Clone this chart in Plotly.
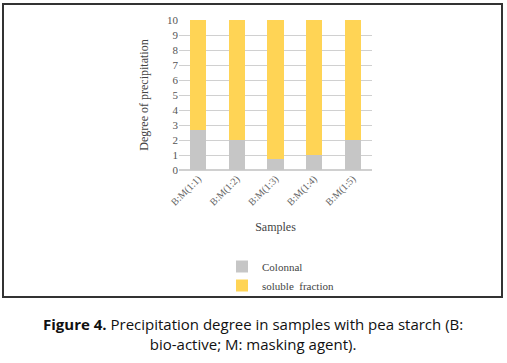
import plotly.graph_objects as go

samples = ["B:M(1:1)", "B:M(1:2)", "B:M(1:3)", "B:M(1:4)", "B:M(1:5)"]
colonnal = [2.7, 2.0, 0.75, 1.0, 2.0]
soluble = [7.3, 8.0, 9.25, 9.0, 8.0]
y_ticks = list(range(0, 11))

serif = "Liberation Serif, Times New Roman, serif"

fig = go.Figure()
fig.add_trace(go.Bar(x=samples, y=colonnal, name="Colonnal",
                     marker=dict(color="#c6c6c6", line=dict(width=0)), width=0.42))
fig.add_trace(go.Bar(x=samples, y=soluble, name="soluble  fraction",
                     marker=dict(color="#ffd455", line=dict(width=0)), width=0.42))

fig.update_layout(
    barmode="stack",
    width=507, height=363,
    margin=dict(l=179, r=135, t=20, b=193, autoexpand=False),
    paper_bgcolor="white", plot_bgcolor="white",
    font=dict(family=serif, size=11, color="#555555"),
    showlegend=True,
    legend=dict(x=(222 - 179) / 193, y=(170 - 252) / 150, xanchor="left", yanchor="top",
                traceorder="normal",
                font=dict(family=serif, size=11, color="#444444"),
                itemwidth=30, tracegroupgap=0, bgcolor="rgba(0,0,0,0)"),
    xaxis=dict(tickangle=-45, tickfont=dict(family=serif, size=10, color="#666666"),
               showgrid=False, showline=False, ticks="",
               title=dict(text="Samples", font=dict(family=serif, size=12, color="#444444"))),
    yaxis=dict(range=[0, 10], tickvals=y_ticks, showgrid=True, gridcolor="#d0d0d0", gridwidth=1,
               zeroline=True, zerolinecolor="#d0d0d0", showline=False, ticks="",
               tickfont=dict(family=serif, size=11, color="#555555"),
               title=dict(text="Degree of precipitation", font=dict(family=serif, size=12, color="#444444"))),
    annotations=[dict(
        xref="paper", yref="paper", x=(253 - 179) / 193, y=(170 - 312) / 150,
        xanchor="center", yanchor="top", showarrow=False, align="center",
        text="<b>Figure 4.</b> Precipitation degree in samples with pea starch (B:<br>bio-active; M: masking agent).",
        font=dict(family="Open Sans, Noto Sans, sans-serif", size=15, color="#111111"),
    )],
    shapes=[dict(type="rect", xref="paper", yref="paper",
                 x0=(3 - 179) / 193, x1=(502 - 179) / 193,
                 y0=(170 - 297) / 150, y1=(170 - 4) / 150,
                 line=dict(color="#333333", width=2), fillcolor="rgba(0,0,0,0)", layer="below")],
)

fig.write_html("out.html", config={"displayModeBar": False},
               post_script="document.body.style.margin='0';document.body.style.overflow='hidden';")
